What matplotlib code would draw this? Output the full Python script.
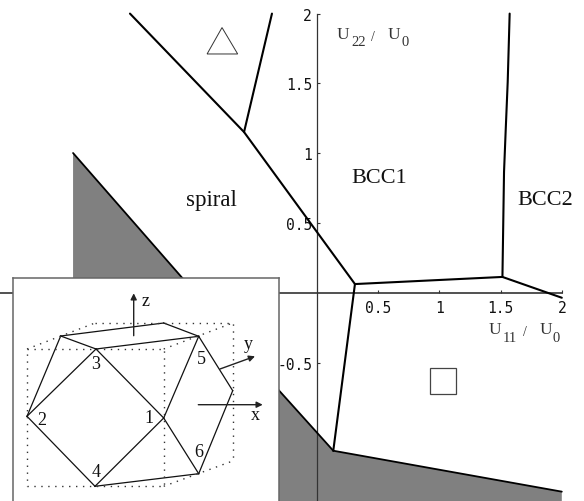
import numpy as np
import matplotlib
matplotlib.use("Agg")
import matplotlib.pyplot as plt

# phase boundaries, in (U11/U0, U22/U0)
upper_x = [-1.528, -0.596, 0.31]
upper_y = [2.0, 1.152, 0.064]
branch_x = [-0.368, -0.596]
branch_y = [2.0, 1.152]
bcc_x = [1.574, 1.558, 1.541, 1.528, 1.515]
bcc_y = [2.0, 1.51, 1.152, 0.866, 0.115]
mid_x = [0.31, 1.515, 2.0]
mid_y = [0.064, 0.115, -0.034]
left_x = [0.31, 0.133]
left_y = [0.064, -1.129]

# grey region
grey_x = [-1.993, -1.1, -0.308, 0.133, 2.0, 2.0, -1.993]
grey_y = [1.002, 0.107, -0.70, -1.129, -1.422, -1.49, -1.49]

# symbols
tri_x = [-0.776, -0.898, -0.648]
tri_y = [1.9, 1.711, 1.711]
sq_x = [0.923, 1.136, 1.136, 0.923]
sq_y = [-0.535, -0.535, -0.723, -0.723]

xticks = [0.5, 1, 1.5, 2]
xtick_labels = ["0.5", "1", "1.5", "2"]
yticks = [-0.5, 0.5, 1, 1.5, 2]
ytick_labels = ["-0.5", "0.5", "1", "1.5", "2"]

# rhombic dodecahedron in the inset, in inset pixels
v1 = (163.7, 159.0)
v2 = (27.0, 157.3)
v3 = (96.0, 90.0)
v4 = (95.0, 227.3)
v5 = (198.7, 77.3)
v6 = (198.7, 214.7)
va = (60.7, 77.0)
vb = (163.7, 64.0)
vc = (232.7, 131.7)
edges = [(va, vb), (vb, v5), (v3, v5), (va, v3), (va, v2), (v2, v3), (v3, v1),
         (v2, v4), (v4, v1), (v1, v6), (v4, v6), (v6, vc), (vc, v5), (v5, v1)]
box_a = [(27, 90), (163.7, 90), (163.7, 227.3), (27, 227.3), (27, 90)]
box_b = [(95, 64), (232.7, 64), (232.7, 202)]
box_links = [((27, 90), (95, 64)), ((163.7, 90), (232.7, 64)), ((163.7, 227.3), (232.7, 202))]

W, H = 584, 502
X0, Y0, UX, UY = 317.0, 294.0, 122.4, 139.7
SERIF = "Liberation Serif"
MONO = "DejaVu Sans Mono"

fig = plt.figure(figsize=(W / 100, H / 100), dpi=100)
ax = fig.add_axes([0, 0, 1, 1])
ax.set_xlim(-X0 / UX, (W - X0) / UX)
ax.set_ylim((Y0 - H) / UY, Y0 / UY)
ax.patch.set_alpha(0)
for s in ["top", "right"]:
    ax.spines[s].set_visible(False)
for s in ["left", "bottom"]:
    ax.spines[s].set_position(("data", 0))
    ax.spines[s].set_color("#333333")
ax.spines["left"].set_linewidth(0.9)
ax.spines["bottom"].set_linewidth(1.2)
ax.spines["left"].set_bounds((Y0 - H) / UY, 2)
ax.spines["bottom"].set_bounds(-X0 / UX, 2)

ax.fill(grey_x, grey_y, color="#808080", lw=0, zorder=1)
for xs, ys in [(upper_x, upper_y), (branch_x, branch_y), (bcc_x, bcc_y),
               (mid_x, mid_y), (left_x, left_y)]:
    ax.plot(xs, ys, color="black", lw=1.5, solid_capstyle="round", zorder=3)
for xs, ys in [(grey_x[:4], grey_y[:4]), (grey_x[3:5], grey_y[3:5])]:
    ax.plot(xs, ys, color="black", lw=1.3, solid_capstyle="round", zorder=3)

ax.fill(tri_x, tri_y, fc="white", ec="#333333", lw=0.7, zorder=3)
ax.fill(sq_x, sq_y, fc="white", ec="#444444", lw=0.9, zorder=3)

ax.set_xticks(xticks)
ax.set_xticklabels(xtick_labels)
ax.set_yticks(yticks)
ax.set_yticklabels(ytick_labels)
ax.tick_params(axis="both", direction="in", length=2.2, width=0.8, color="#333333",
               labelsize=10.5, labelcolor="#111111")
ax.tick_params(axis="x", pad=5)
ax.tick_params(axis="y", pad=3.6)
for t in ax.get_xticklabels() + ax.get_yticklabels():
    t.set_family(MONO)


def put(px, py, s, size, color="#111111"):
    ax.text((px - X0) / UX, (Y0 - py) / UY, s, family=SERIF, fontsize=size,
            ha="center", va="center", color=color, zorder=4)


put(211, 201, "spiral", 16.5)
put(379, 178.5, "BCC1", 16)
put(545.5, 200.5, "BCC2", 16)
for px, py, s, size in [(342.5, 35.5, "U", 12.5), (358.5, 43, "22", 10.5), (373, 37.5, "/", 10),
                        (393.5, 35.5, "U", 12.5), (405, 43, "0", 10.5),
                        (494.5, 330, "U", 12.5), (509.5, 339, "11", 10.5), (525, 333, "/", 10),
                        (546, 330, "U", 12.5), (556, 339, "0", 10.5)]:
    put(px, py, s, size, "#333333")

# inset
ins = fig.add_axes([13 / W, 0, (279.3 - 13) / W, (H - 279.3) / H], zorder=5)
ins.set_xlim(13, 279.3)
ins.set_ylim(H - 260, 19.3)
ins.set_xticks([])
ins.set_yticks([])
ins.spines["bottom"].set_visible(False)
for s in ins.spines.values():
    s.set_linewidth(1.1)
    s.set_color("#666666")
for p, q in edges:
    ins.plot([p[0], q[0]], [p[1], q[1]], color="#111111", lw=0.9)
for pts in [box_a, box_b] + box_links:
    xs, ys = zip(*pts)
    ins.plot(xs, ys, color="#333333", lw=1.0, ls=(0, (1, 4)))
for start, end in [((133.7, 76.7), (133.7, 34.3)), ((220, 110), (255, 97.3)), ((198.3, 145.7), (262.7, 145.7))]:
    ins.annotate("", xy=end, xytext=start,
                 arrowprops=dict(arrowstyle="-|>", color="#222222", lw=1.0, shrinkA=0, shrinkB=0, mutation_scale=9))
for px, py, s in [(146, 42, "z"), (248, 85, "y"), (255, 156, "x"), (149, 159, "1"), (42, 161, "2"),
                  (96, 105, "3"), (96, 213, "4"), (201, 100, "5"), (199, 193, "6")]:
    ins.text(px, py, s, family=SERIF, fontsize=13, ha="center", va="center", color="#111111")

fig.savefig("out.png", dpi=100)
